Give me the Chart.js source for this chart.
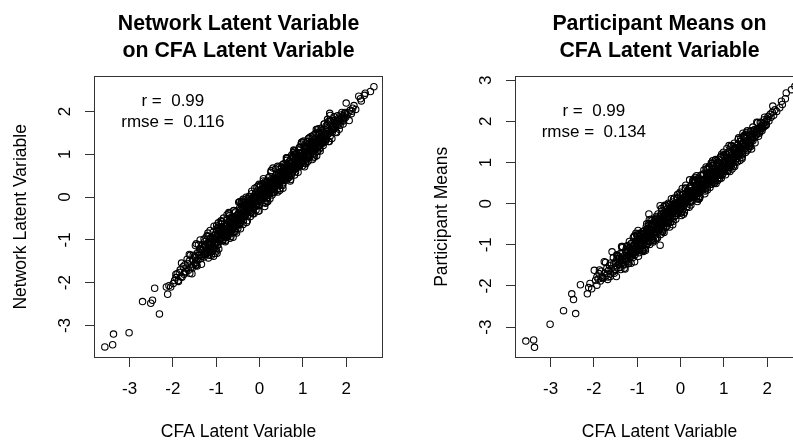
<!DOCTYPE html>
<html><head><meta charset="utf-8">
<script src="https://cdn.jsdelivr.net/npm/chart.js@4/dist/chart.umd.min.js"></script>
<style>
html,body{margin:0;padding:0;background:#fff;overflow:hidden;width:793px;height:446px;}
#wrap{position:relative;width:793px;height:446px;overflow:hidden;background:#fff;}
canvas{position:absolute;top:0;}
#c1{left:0}
#c2{left:421px}
</style></head><body><div id="wrap"><canvas id="c1" width="477" height="446"></canvas><canvas id="c2" width="477" height="446"></canvas></div>
<script>
// CFA latent variable (x, shared by both panels)
const cfa = [
-3.57,-3.39,-3.37,-3.01,-2.70,-2.51,-2.47,-2.42,-2.31,-2.15,-2.12,-2.09,-2.05,
-1.99,-1.96,-1.93,-1.90,-1.88,-1.85,-1.83,-1.81,-1.79,-1.76,-1.74,-1.72,-1.70,-1.68,-1.66,-1.64,-1.62,-1.60,-1.58,-1.56,-1.54,-1.52,
-1.50,-1.49,-1.47,-1.46,-1.45,-1.43,-1.42,-1.40,-1.39,-1.37,-1.36,-1.35,-1.33,-1.32,-1.30,-1.29,-1.28,-1.26,-1.25,-1.24,-1.22,-1.21,-1.20,-1.18,-1.17,-1.16,-1.15,-1.13,-1.12,-1.11,-1.10,-1.09,-1.08,-1.07,-1.06,-1.05,-1.04,-1.03,-1.02,-1.01,
-0.99,-0.98,-0.96,-0.96,-0.95,-0.93,-0.92,-0.92,-0.90,-0.89,
-0.88,-0.86,-0.86,-0.85,-0.83,-0.82,-0.81,-0.80,-0.79,-0.77,
-0.77,-0.75,-0.74,-0.73,-0.71,-0.70,-0.70,-0.68,-0.67,-0.66,
-0.64,-0.63,-0.63,-0.61,-0.60,-0.59,-0.57,-0.56,-0.55,-0.54,
-0.53,-0.52,-0.51,-0.50,-0.49,-0.47,-0.46,-0.45,-0.43,-0.42,
-0.41,-0.40,-0.39,-0.37,-0.36,-0.35,-0.34,-0.32,-0.31,-0.30,
-0.29,-0.27,-0.26,-0.25,-0.24,-0.22,-0.21,-0.20,-0.19,-0.18,
-0.16,-0.15,-0.14,-0.13,-0.11,-0.10,-0.09,-0.08,-0.06,-0.05,
-0.04,-0.03,-0.02,-0.01,0.00,-0.47,-0.33,-0.23,-0.12,-0.07,
0.01,0.02,0.04,0.05,0.06,0.07,0.09,0.10,0.11,0.12,
0.13,0.15,0.16,0.17,0.18,0.20,0.21,0.22,0.23,0.25,
0.26,0.27,0.28,0.30,0.31,0.32,0.33,0.35,0.36,0.37,
0.38,0.40,0.41,0.42,0.43,0.45,0.46,0.47,0.48,0.50,
0.03,0.08,0.14,0.19,0.24,0.29,0.34,0.39,0.44,0.49,
0.51,0.52,0.54,0.55,0.56,0.57,0.59,0.60,0.61,0.62,
0.64,0.65,0.66,0.67,0.69,0.70,0.71,0.72,0.74,0.75,
0.76,0.77,0.79,0.80,0.81,0.82,0.84,0.85,0.86,0.87,
0.89,0.90,0.91,0.92,0.94,0.95,0.96,0.97,0.99,1.00,
0.53,0.58,0.63,0.68,0.73,0.78,0.83,0.88,0.93,0.98,
1.01,1.02,1.04,1.05,1.06,1.08,1.09,1.10,1.12,1.13,
1.14,1.16,1.17,1.18,1.20,1.21,1.22,1.24,1.25,1.26,
1.28,1.29,1.30,1.32,1.33,1.34,1.36,1.37,1.38,1.40,
1.41,1.42,1.44,1.45,1.46,1.48,1.49,1.03,1.19,1.35,
1.51,1.53,1.55,1.56,1.58,1.60,1.61,1.63,1.65,1.66,
1.68,1.70,1.72,1.74,1.75,1.77,1.79,1.81,1.83,1.85,
1.87,1.89,1.91,1.93,1.95,1.97,1.99,1.62,
2.00,2.02,2.04,2.07,2.09,2.12,2.15,2.18,2.22,2.29,2.33,2.35,2.42,2.56,2.64,2.13,2.44,
-1.62,-1.55,-1.48,-1.44,-1.38,-1.34,-1.27,-1.23,-1.19,-1.14,
-1.09,-1.05,-1.00,-0.97,-0.94,-0.90,-0.87,-0.84,-0.80,-0.78,
-0.75,-0.72,-0.69,-0.66,-0.62,-0.60,-0.58,-0.55,-0.52,-0.48,
-0.45,-0.42,-0.38,-0.35,-0.31,-0.28,-0.25,-0.21,-0.18,-0.14,
-0.11,-0.08,-0.04,-0.01,0.02,0.05,0.09,0.12,0.15,0.18,
0.21,0.24,0.28,0.31,0.34,0.37,0.41,0.44,0.47,0.50,
0.53,0.56,0.59,0.62,0.65,0.68,0.71,0.74,0.77,0.80,
0.83,0.86,0.89,0.92,0.95,0.98,1.01,1.04,1.07,1.10,
1.13,1.16,1.19,1.22,1.25,1.28,1.31,1.34,1.37,1.40,
1.43,1.47,1.50,1.54,1.57,1.61,1.64,1.68,1.72,1.76,
1.80,1.84,1.88,1.93,1.97,0.07,-0.29,0.36,-0.63,0.95,
-1.31,-1.26,-1.21,-1.16,-1.11,-1.07,-1.02,-0.99,-0.95,-0.91,
-0.88,-0.85,-0.82,-0.79,-0.76,-0.73,-0.70,-0.67,-0.64,-0.61,
-0.59,-0.56,-0.53,-0.50,-0.46,-0.43,-0.40,-0.37,-0.34,-0.30,
-0.27,-0.24,-0.20,-0.17,-0.13,-0.10,-0.07,-0.03,0.00,0.04,
0.08,0.11,0.14,0.17,0.20,0.23,0.26,0.29,0.32,0.35,
0.39,0.42,0.45,0.48,0.51,0.54,0.57,0.60,0.63,0.66,
0.69,0.72,0.75,0.78,0.81,0.84,0.87,0.90,0.93,0.96,
0.99,1.03,1.06,1.09,1.12,1.15,1.18,1.21,1.24,1.27,
1.30,1.33,1.36,1.39,1.42,1.45,1.49,1.52,1.56,1.59,
-1.93,-1.87,-1.80,-1.73,-1.67,-1.61,-1.53,-1.47,-1.41,-1.35,
1.63,1.67,1.71,1.75,1.78,1.82,1.86,1.90,1.94,1.98,
-1.28,-1.18,-1.08,-0.98,-0.88,-0.78,-0.68,-0.58,-0.48,-0.38,
-0.28,-0.18,-0.08,0.02,0.12,0.22,0.32,0.42,0.52,0.62,
0.72,0.82,0.92,1.02,1.12,1.22,1.32,1.42,1.52,1.62,
-1.24,-1.13,-1.03,-0.93,-0.83,-0.73,-0.63,-0.53,-0.43,-0.33,
-0.23,-0.13,-0.03,0.07,0.17,0.27,0.37,0.47,0.57,0.67,
0.77,0.87,0.97,1.07,1.17,1.27,1.37,1.47,1.57,1.67,
-1.17,-1.06,-0.96,-0.86,-0.76,-0.66,-0.56,-0.46,-0.36,-0.26,
-0.16,-0.06,0.04,0.14,0.24,0.34,0.44,0.54,0.64,0.74,
0.84,0.94,1.04,1.14,1.24,1.34,1.44,1.54,0.29,-0.71,
-1.36,-1.21,-1.01,-0.81,-0.61,-0.41,-0.21,-0.01,0.19,0.39,
0.59,0.79,0.99,1.19,1.39,1.59,-1.46,-1.14,-0.44,0.09,
-1.15,-1.04,-0.94,-0.84,-0.74,-0.64,-0.54,-0.44,-0.34,-0.24,
-0.14,-0.04,0.06,0.16,0.26,0.36,0.46,0.56,0.66,0.76,
0.86,0.96,1.06,1.16,1.26,1.36,1.46,-1.22,-0.99,-0.69,
-0.39,-0.09,0.21,0.51,0.81,1.11,-0.59,-0.19,0.11,0.41,
-0.97,-0.77,-0.57,-0.37,-0.17,0.03,0.23,0.43,0.63,0.83,
1.03,1.23,1.43,-1.07,-0.87,-0.67,-0.47,-0.27,-0.07,0.13,
0.33,0.53,0.73,0.93,1.13,1.33,-0.79,-0.49,-0.29,0.63
];
// Network latent variable (left panel y)
const network = [
-3.50,-3.45,-3.20,-3.17,-2.44,-2.48,-2.41,-2.13,-2.73,-2.10,-2.27,-2.07,-2.10,
-2.02,-1.95,-1.88,-1.79,-1.95,-1.76,-1.70,-1.86,-1.87,-1.62,-1.80,-1.58,-1.74,-1.66,-1.55,-1.71,-1.49,-1.36,-1.63,-1.79,-1.47,-1.58,
-1.38,-1.55,-1.41,-1.09,-1.52,-1.30,-1.47,-1.36,-1.28,-1.00,-1.44,-1.21,-1.39,-1.25,-1.18,-1.34,-1.40,-1.15,-1.29,-1.10,-1.24,-1.31,-1.08,-1.19,-1.26,-1.05,-1.13,-1.22,-0.98,-1.36,-1.07,-1.15,-0.94,-1.02,-1.18,-0.97,-1.11,-0.90,-1.05,-0.99,
-0.66,-1.05,-0.88,-1.12,-0.60,-0.97,-0.84,-1.03,-0.91,-0.55,
-0.95,-0.78,-1.00,-0.87,-0.72,-0.93,-0.81,-0.69,-0.90,-0.76,
-0.84,-0.63,-0.79,-0.88,-0.70,-0.58,-0.82,-0.66,-0.74,-0.60,
-0.71,-0.52,-0.77,-0.65,-0.56,-0.69,-0.48,-0.61,-0.73,-0.50,
-0.58,-0.44,-0.63,-0.49,-0.55,-0.37,-0.52,-0.60,-0.41,-0.47,
-0.40,-0.30,-0.45,-0.28,-0.36,-0.22,-0.33,-0.41,-0.21,-0.29,
-0.17,-0.31,-0.19,-0.27,-0.12,-0.24,-0.30,-0.10,-0.18,-0.26,
-0.06,-0.14,-0.21,-0.04,-0.11,-0.17,0.02,-0.09,-0.01,-0.15,
0.05,-0.06,0.08,-0.02,0.04,-0.49,-0.16,-0.08,0.03,-0.10,
0.08,-0.05,0.12,0.01,0.15,-0.02,0.10,0.19,0.04,0.14,
0.22,0.08,0.17,0.26,0.11,0.20,0.29,0.13,0.24,0.18,
0.31,0.21,0.35,0.25,0.19,0.33,0.40,0.27,0.36,0.30,
0.43,0.34,0.28,0.45,0.38,0.49,0.36,0.42,0.52,0.44,
0.00,0.14,0.06,0.28,0.15,0.37,0.24,0.32,0.55,0.40,
0.58,0.45,0.63,0.50,0.42,0.60,0.54,0.68,0.49,0.62,
0.71,0.57,0.66,0.52,0.75,0.61,0.69,0.78,0.64,0.72,
0.59,0.82,0.70,0.76,0.66,0.85,0.74,0.80,0.69,0.88,
0.77,0.91,0.83,0.72,0.87,0.94,0.80,0.90,0.98,0.85,
0.40,0.66,0.74,0.58,0.81,0.70,0.92,0.78,0.96,0.84,
0.97,0.91,1.05,0.94,1.10,0.99,1.06,0.93,1.14,1.03,
1.08,1.17,1.00,1.12,1.21,1.07,1.16,1.25,1.11,1.19,
1.28,1.13,1.22,1.31,1.07,1.26,1.35,1.20,1.29,1.38,
1.24,1.33,1.42,1.28,1.36,1.45,1.32,1.02,1.23,1.30,
1.40,1.49,1.44,1.53,1.47,1.56,1.50,1.91,1.54,1.62,
1.57,1.66,1.60,1.70,1.63,1.73,1.67,1.78,1.71,1.81,
1.76,1.85,1.79,1.90,1.83,1.95,1.87,1.96,
2.20,1.92,1.98,1.79,2.03,1.95,2.08,2.14,2.05,2.36,2.30,2.25,2.38,2.47,2.58,2.01,2.43,
-1.34,-1.65,-1.13,-1.61,-1.20,-1.57,-1.04,-1.28,-0.84,-1.29,
-1.27,-0.68,-1.08,-0.72,-1.21,-0.76,-0.57,-0.99,-0.62,-1.01,
-0.41,-0.84,-0.43,-0.92,-0.52,-0.32,-0.80,-0.34,-0.61,-0.12,
-0.63,-0.11,-0.64,-0.18,0.00,-0.44,-0.13,-0.45,0.08,-0.27,
0.21,-0.30,0.15,-0.32,0.25,-0.05,0.38,-0.12,0.27,-0.01,
0.46,-0.04,0.42,0.68,0.17,0.66,0.18,0.54,0.16,0.69,
0.27,0.78,0.45,0.92,0.43,0.83,0.38,0.98,0.66,1.08,
0.59,1.03,0.58,1.16,0.78,1.29,0.79,1.13,0.78,1.30,
1.37,0.94,1.30,0.88,1.45,1.14,1.58,1.07,1.51,1.08,
1.51,1.21,1.71,1.34,1.82,1.30,1.78,1.52,1.88,1.52,
1.90,1.59,1.92,1.71,1.98,0.11,-0.29,0.42,-0.62,0.94,
-1.10,-1.31,-0.91,-1.36,-1.05,-1.21,-0.87,-1.26,-0.70,-0.99,
-0.70,-1.02,-0.75,-1.04,-0.53,-0.80,-0.38,-0.79,-0.51,-0.83,
-0.31,-0.66,-0.43,-0.73,-0.26,-0.46,-0.09,-0.55,-0.18,-0.59,
-0.32,0.02,-0.35,-0.07,-0.39,0.07,-0.18,0.26,-0.19,0.16,
0.32,-0.03,0.19,-0.10,0.38,0.17,0.58,0.11,0.42,0.12,
0.52,0.12,0.70,0.38,0.70,0.31,0.63,0.43,0.90,0.61,
0.47,0.87,0.68,1.04,0.52,0.92,0.71,1.10,0.89,1.24,
0.85,1.21,0.79,1.12,0.92,1.39,1.07,1.32,0.92,1.35,
1.50,1.16,1.40,1.13,1.55,1.35,1.71,1.30,1.62,1.30,
-1.80,-1.97,-1.54,-1.77,-1.45,-1.78,-1.36,-1.60,-1.11,-1.36,
1.43,1.79,1.59,1.80,1.51,1.84,1.68,1.98,1.78,1.95,
-0.98,-1.42,-0.96,-1.31,-0.63,-0.83,-0.96,-0.37,-0.64,-0.05,
-0.55,0.14,-0.21,0.28,-0.22,0.31,0.10,0.72,0.44,0.86,
0.41,1.08,0.73,1.31,0.84,1.38,0.97,1.61,1.36,1.78,
-1.34,-0.95,-1.32,-0.89,-0.49,-0.92,-0.50,-0.84,-0.16,-0.39,
-0.03,-0.21,-0.33,0.21,-0.04,0.62,0.33,0.20,0.73,0.54,
0.97,0.77,1.28,0.82,1.21,0.94,1.60,1.29,1.71,1.37,
-0.92,-1.38,-0.86,-0.57,-0.94,-0.64,-0.81,-0.11,-0.47,-0.07,
-0.39,0.24,-0.03,-0.14,0.48,0.19,0.56,0.21,0.92,0.55,
0.67,1.17,0.71,1.25,1.00,1.59,1.30,1.67,0.05,-0.36,
-1.22,-0.90,-1.21,-0.73,-0.94,-0.21,-0.35,0.30,-0.10,0.46,
0.39,1.10,0.73,1.42,1.16,1.77,-1.58,-0.78,-0.74,0.43,
-1.09,-1.18,-0.77,-0.88,-0.63,-0.83,-0.52,-0.29,-0.43,-0.16,
-0.01,-0.20,0.11,0.35,0.15,0.39,0.29,0.68,0.60,0.92,
0.73,1.04,0.86,1.20,1.18,1.47,1.26,-1.31,-0.77,-0.74,
-0.44,0.11,0.08,0.60,1.00,1.00,-0.51,-0.36,0.29,0.29,
-1.12,-0.67,-0.67,-0.13,-0.17,0.18,0.07,0.51,0.57,1.01,
1.18,1.07,1.47,-0.82,-0.95,-0.48,-0.65,-0.14,-0.18,0.36,
0.29,0.76,0.51,1.03,1.03,1.49,-0.90,-0.39,-0.04,0.44
];
// Participant means (right panel y)
const means = [
-3.34,-3.31,-3.49,-2.93,-2.60,-2.19,-2.33,-2.67,-1.97,-2.19,-2.04,-1.94,-2.07,
-1.62,-1.86,-1.78,-1.83,-1.70,-1.88,-1.64,-1.79,-1.82,-1.41,-1.69,-1.75,-1.57,-1.84,-1.62,-1.50,-1.71,-1.58,-1.17,-1.66,-1.45,-1.60,
-1.42,-1.60,-1.35,-1.51,-1.28,-1.47,-1.33,-1.55,-1.21,-1.44,-1.30,-1.38,-1.19,-1.48,-1.57,-1.26,-1.34,-1.12,-1.40,-1.29,-1.17,-1.36,-1.25,-1.08,-1.30,-1.22,-1.14,-1.27,-1.05,-1.18,-1.31,-1.11,-1.03,-1.20,-1.41,-0.97,-1.13,-1.07,-0.95,-1.16,
-0.92,-1.10,-0.85,-0.98,-1.04,-0.79,-0.95,-0.88,-1.01,-0.83,
-0.90,-0.74,-0.97,-0.81,-0.89,-0.70,-0.86,-0.93,-0.76,-0.84,
-0.66,-0.80,-0.72,-0.25,-0.85,-0.68,-0.77,-0.62,-0.73,-0.80,
-0.59,-0.70,-0.64,-0.75,-0.55,-0.66,-0.61,-0.48,-0.69,-0.57,
-0.52,-0.63,-0.46,-0.58,-0.50,-1.01,-0.44,-0.55,-0.40,-0.49,
-0.35,-0.44,-0.30,-0.38,-0.27,-0.41,-0.23,-0.33,-0.37,-0.20,
-0.31,-0.16,-0.28,-0.22,-0.30,-0.13,-0.19,-0.25,-0.09,-0.21,
-0.14,-0.20,-0.05,-0.17,-0.08,-0.13,-0.03,-0.10,-0.15,0.03,
-0.07,0.01,-0.04,0.06,0.02,-0.05,-0.25,-0.16,-0.02,-0.12,
0.04,0.09,-0.02,0.11,0.00,0.14,0.06,0.03,0.17,0.09,
0.12,0.21,0.08,0.15,0.24,0.13,0.19,0.28,0.16,0.22,
0.20,0.31,0.17,0.26,0.35,0.23,0.30,0.27,0.38,0.25,
0.34,0.41,0.29,0.37,0.45,0.33,0.40,0.48,0.36,0.44,
0.08,0.02,0.19,0.12,0.30,0.21,0.26,0.33,0.39,0.53,
0.47,0.55,0.42,0.58,0.50,0.61,0.46,0.57,0.64,0.52,
0.60,0.49,0.67,0.56,0.63,0.72,0.58,0.66,0.53,0.70,
0.76,0.62,0.69,0.58,0.74,0.81,0.67,0.77,0.71,0.63,
0.80,0.86,0.73,0.84,0.78,0.91,0.69,0.86,0.82,0.95,
0.57,0.48,0.66,0.74,0.61,0.79,0.72,0.85,0.76,0.89,
0.93,1.01,0.88,1.05,0.97,1.09,0.92,1.04,1.13,0.99,
1.08,1.16,1.03,0.95,1.19,1.11,1.07,1.23,1.15,1.28,
1.10,1.20,1.31,1.17,1.26,1.35,1.22,1.30,1.39,1.25,
1.34,1.43,1.29,1.38,1.47,1.33,1.42,0.99,1.12,1.27,
1.45,1.38,1.52,1.46,1.56,1.49,1.60,1.53,1.64,1.57,
1.68,1.61,1.72,1.66,1.76,1.70,1.80,1.74,1.85,1.79,
1.89,1.83,1.94,1.87,1.98,1.92,2.03,1.55,
2.06,2.12,2.01,2.17,2.10,2.22,2.15,2.28,2.24,2.33,2.49,2.41,2.55,2.77,2.85,2.37,2.69,
-1.77,-1.31,-1.77,-1.32,-1.60,-1.04,-1.35,-1.02,-1.45,-0.97,
-0.82,-1.24,-0.86,-1.28,-0.72,-1.00,-1.13,-0.66,-1.03,-0.49,
-0.96,-0.39,-0.81,-0.41,-0.90,-0.50,-0.38,-0.85,-0.25,-0.64,
-0.26,-0.67,-0.07,-0.49,-0.54,-0.02,-0.57,-0.09,-0.36,0.14,
-0.38,0.14,-0.20,0.28,-0.29,0.23,0.00,0.37,-0.07,0.31,
0.58,0.04,0.54,0.18,0.64,0.12,0.56,0.16,0.69,0.33,
0.72,0.24,0.84,0.41,0.74,0.39,0.99,0.56,0.98,0.55,
0.96,0.56,1.08,0.76,1.20,0.73,1.15,0.70,1.13,0.82,
0.88,1.39,0.99,1.39,0.90,1.36,1.01,1.60,1.20,1.53,
1.21,1.66,1.24,1.77,1.39,1.76,1.33,1.78,1.48,1.98,
1.64,1.98,1.77,2.04,1.90,0.05,-0.25,0.33,-0.58,0.91,
-1.49,-1.17,-1.46,-1.01,-1.17,-0.80,-1.15,-0.79,-0.98,-0.74,
-1.08,-0.73,-1.10,-0.73,-0.91,-0.49,-0.74,-0.48,-0.89,-0.51,
-0.70,-0.35,-0.83,-0.36,-0.53,-0.17,-0.59,-0.28,-0.58,-0.13,
-0.03,-0.33,-0.04,-0.43,-0.08,-0.28,0.22,-0.15,0.20,-0.19,
-0.06,0.38,-0.08,0.27,-0.09,0.42,0.20,0.52,0.15,0.43,
0.56,0.30,0.18,0.69,0.46,0.82,0.36,0.72,0.54,0.90,
0.77,0.47,0.93,0.63,1.07,0.77,1.00,0.61,1.14,0.76,
1.18,0.85,1.12,0.79,1.27,1.09,1.41,1.00,1.34,1.02,
1.10,1.56,1.25,1.51,1.13,1.63,1.44,1.68,1.33,1.66,
-1.98,-1.61,-1.78,-1.43,-1.78,-1.44,-1.69,-1.24,-1.43,-1.07,
1.77,1.53,1.80,1.67,1.97,1.71,1.97,1.86,2.10,1.92,
-1.59,-0.92,-1.17,-0.65,-1.12,-0.64,-0.38,-0.85,-0.41,-0.70,
0.01,-0.51,0.12,-0.23,0.45,0.06,0.59,0.11,0.69,0.33,
0.98,0.49,1.13,0.79,1.41,0.91,1.43,1.09,1.73,1.39,
-1.05,-1.19,-0.72,-1.10,-0.85,-0.49,-0.93,-0.42,-0.64,-0.05,
-0.45,0.00,0.24,-0.26,0.26,0.07,0.68,0.49,0.31,0.88,
0.49,1.01,0.83,1.34,0.91,1.31,1.05,1.62,1.45,1.86,
-1.22,-0.78,-1.19,-1.16,-0.60,-0.78,-0.31,-0.75,-0.04,-0.40,
0.11,-0.24,0.37,0.20,-0.03,0.56,0.13,0.72,0.54,1.04,
1.05,0.62,1.20,0.78,1.47,1.15,1.71,1.29,0.58,-0.99,
-1.04,-1.41,-0.76,-1.14,-0.43,-0.68,0.12,-0.23,0.31,0.05,
0.89,0.51,1.25,0.84,1.58,1.39,-1.26,-1.45,-0.12,-0.21,
-1.24,-0.92,-1.09,-0.79,-0.92,-0.50,-0.60,-0.25,-0.46,-0.21,
-0.31,0.04,-0.06,0.31,0.30,0.17,0.57,0.48,0.84,0.63,
0.97,0.86,1.19,0.98,1.31,1.21,1.60,-1.13,-1.15,-0.56,
-0.23,-0.23,0.40,0.34,0.73,1.21,-0.77,-0.12,0.00,0.61,
-0.92,-0.97,-0.40,-0.47,0.04,-0.04,0.37,0.27,0.73,0.78,
0.84,1.31,1.19,-1.19,-0.68,-0.88,-0.32,-0.45,0.13,0.04,
0.53,0.48,0.93,0.71,1.25,1.21,-0.56,-0.64,-0.49,0.85
];
const xTicks = [-3,-2,-1,0,1,2];
const yTicksLeft = [-3,-2,-1,0,1,2];
const yTicksRight = [-3,-2,-1,0,1,2,3];
const titleLeft = ['Network Latent Variable','on CFA Latent Variable'];
const titleRight = ['Participant Means on','CFA Latent Variable'];
const xTitle = 'CFA Latent Variable';
const yTitleLeft = 'Network Latent Variable';
const yTitleRight = 'Participant Means';
const notesLeft = ['r =  0.99','rmse =  0.116'];
const notesRight = ['r =  0.99','rmse =  0.134'];

const FONT = '"Liberation Sans", Arial, Helvetica, sans-serif';
Chart.defaults.font.family = FONT;
Chart.defaults.color = '#000';

const frame = {
  id: 'frame',
  afterDraw(chart, args, opts) {
    const {ctx, chartArea: a, scales} = chart;
    ctx.save();
    ctx.strokeStyle = '#333';
    ctx.lineWidth = 1;
    ctx.strokeRect(Math.round(a.left) + 0.5, Math.round(a.top) + 0.5, Math.round(a.right - a.left) - 1, Math.round(a.bottom - a.top) - 1);
    ctx.font = '17px ' + FONT;
    ctx.fillStyle = '#000';
    ctx.textAlign = 'center';
    ctx.textBaseline = 'middle';
    const px = scales.x.getPixelForValue(opts.at[0]);
    const py = scales.y.getPixelForValue(opts.at[1]);
    const n = opts.lines.length;
    opts.lines.forEach((t, i) => ctx.fillText(t, px, py + (i - (n - 1) / 2) * 21));
    ctx.restore();
  }
};

function makeChart(id, ys, yMin, yMax, yTicks, title, yTitle, notes) {
  return new Chart(document.getElementById(id), {
    type: 'scatter',
    data: {datasets: [{
      data: cfa.map((x, i) => ({x: x, y: ys[i]})),
      pointStyle: 'circle', pointRadius: 3.2, pointHoverRadius: 3.2,
      borderColor: '#000', backgroundColor: 'rgba(0,0,0,0)', borderWidth: 1.1, pointBorderWidth: 1.1
    }]},
    options: {
      responsive: false, animation: false, devicePixelRatio: 1, events: [],
      layout: {padding: {left: 0, right: 0, top: 0, bottom: 0}},
      plugins: {
        legend: {display: false}, tooltip: {enabled: false},
        title: {display: true, text: title, color: '#000',
          font: {family: FONT, size: 21.3, weight: 'bold', lineHeight: 1.25},
          padding: {top: 11, bottom: 11.4}},
        frame: {at: [-2, 2], lines: notes}
      },
      scales: {
        x: {
          type: 'linear', min: -3.82, max: 2.85,
          afterBuildTicks: s => { s.ticks = xTicks.map(v => ({value: v})); },
          afterFit: s => { s.height = 88; },
          grid: {drawOnChartArea: false, drawTicks: true, tickLength: 9, color: '#333', lineWidth: 1},
          border: {display: false},
          ticks: {font: {family: FONT, size: 17}, color: '#000', padding: 12, minRotation: 0, maxRotation: 0, autoSkip: false, includeBounds: false},
          title: {display: true, text: xTitle, color: '#000', font: {family: FONT, size: 17.5}, padding: {top: 0, bottom: 3}}
        },
        y: {
          type: 'linear', min: yMin, max: yMax,
          afterBuildTicks: s => { s.ticks = yTicks.map(v => ({value: v})); },
          afterFit: s => { s.width = 94; },
          grid: {drawOnChartArea: false, drawTicks: true, tickLength: 9, color: '#333', lineWidth: 1},
          border: {display: false},
          ticks: {font: {family: FONT, size: 17}, color: '#000', padding: 12, minRotation: 90, maxRotation: 90, crossAlign: 'center', autoSkip: false, includeBounds: false},
          title: {display: true, text: yTitle, color: '#000', font: {family: FONT, size: 17.5}, padding: {top: 11, bottom: 0}}
        },
        // empty right margin so the title centres over the plot box, as in the reference
        margin: {
          type: 'linear', position: 'right', display: true, min: 0, max: 1,
          afterFit: s => { s.width = 94; },
          grid: {display: false}, border: {display: false}, ticks: {display: false}, title: {display: false}
        }
      }
    },
    plugins: [frame]
  });
}

makeChart('c1', network, -3.76, 2.84, yTicksLeft, titleLeft, yTitleLeft, notesLeft);
makeChart('c2', means, -3.75, 3.11, yTicksRight, titleRight, yTitleRight, notesRight);
</script>
</body></html>
